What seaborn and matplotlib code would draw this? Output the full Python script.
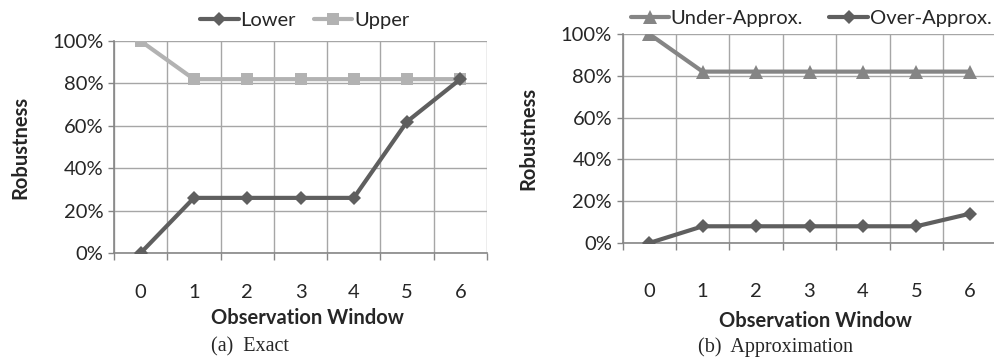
import matplotlib
matplotlib.use("Agg")
import matplotlib.pyplot as plt
import seaborn as sns
import pandas as pd
from matplotlib.ticker import FixedLocator, PercentFormatter

# observation windows
windows = [0, 1, 2, 3, 4, 5, 6]

# (a) exact robustness
lower = [0.00, 0.26, 0.26, 0.26, 0.26, 0.62, 0.82]
upper = [1.00, 0.82, 0.82, 0.82, 0.82, 0.82, 0.82]

# (b) approximation
under_approx = [1.00, 0.82, 0.82, 0.82, 0.82, 0.82, 0.82]
over_approx = [0.00, 0.08, 0.08, 0.08, 0.08, 0.08, 0.14]

sns.set_style("white")
plt.rcParams['font.family'] = ['Lato', 'DejaVu Sans']

fig = plt.figure(figsize=(9.94, 3.6), dpi=100)
ax1 = fig.add_axes([114 / 994, 1 - 253 / 360, 373 / 994, 212 / 360])
ax2 = fig.add_axes([622.5 / 994, 1 - 243 / 360, 374 / 994, 209 / 360])

grid_col = '#a6a6a6'
axis_col = '#868686'
fs = 14.5


def style_axes(ax, label_pad):
    ax.set_xlim(-0.5, 6.5)
    ax.set_ylim(0, 1)
    ax.xaxis.set_major_locator(FixedLocator([i - 0.5 for i in range(8)]))
    ax.xaxis.set_minor_locator(FixedLocator(windows))
    ax.xaxis.set_major_formatter(plt.NullFormatter())
    ax.xaxis.set_minor_formatter(plt.FixedFormatter([str(w) for w in windows]))
    ax.set_yticks([0, 0.2, 0.4, 0.6, 0.8, 1.0])
    ax.yaxis.set_major_formatter(PercentFormatter(1.0, decimals=0))
    ax.tick_params(axis='x', which='major', length=5, width=1, color=axis_col, direction='out', bottom=True)
    ax.tick_params(axis='x', which='minor', length=0, pad=label_pad, labelsize=fs, bottom=True)
    ax.tick_params(axis='y', length=4.5, width=1, color=axis_col, direction='out', labelsize=fs, pad=3, left=True)
    ax.grid(True, which='major', color=grid_col, linewidth=1)
    for side in ['top', 'right']:
        ax.spines[side].set_visible(False)
    for side in ['left', 'bottom']:
        ax.spines[side].set_color(axis_col)
        ax.spines[side].set_linewidth(1.2)
    ax.set_axisbelow(True)


df1 = pd.DataFrame({'Observation Window': windows, 'Lower': lower, 'Upper': upper})
df2 = pd.DataFrame({'Observation Window': windows, 'Under-Approx.': under_approx,
                    'Over-Approx.': over_approx})

sns.lineplot(data=df1, x='Observation Window', y='Lower', ax=ax1, color='#5f5f5f',
             marker='D', markersize=7, linewidth=3, markeredgewidth=0, label='Lower', zorder=4)
sns.lineplot(data=df1, x='Observation Window', y='Upper', ax=ax1, color='#b2b2b2',
             marker='s', markersize=9, linewidth=3, markeredgewidth=0, label='Upper', zorder=3)

sns.lineplot(data=df2, x='Observation Window', y='Under-Approx.', ax=ax2, color='#858585',
             marker='^', markersize=10, linewidth=3, markeredgewidth=0, label='Under-Approx.', zorder=3)
sns.lineplot(data=df2, x='Observation Window', y='Over-Approx.', ax=ax2, color='#5f5f5f',
             marker='D', markersize=7, linewidth=3, markeredgewidth=0, label='Over-Approx.', zorder=4)

style_axes(ax1, 22)
style_axes(ax2, 29)

for ax, xl, yl in [(ax1, (307.5, 318), (20, 147)), (ax2, (815, 321), (528, 138))]:
    ax.set_xlabel('')
    ax.set_ylabel('')
    fig.text(xl[0] / 994, 1 - xl[1] / 360, 'Observation Window', ha='center', va='center',
             fontsize=fs, fontweight='bold')
    fig.text(yl[0] / 994, 1 - yl[1] / 360, 'Robustness', ha='center', va='center',
             rotation=90, fontsize=fs, fontweight='bold')

leg1 = ax1.legend(loc='center', bbox_to_anchor=(305 / 994, 1 - 20 / 360), bbox_transform=fig.transFigure,
                  ncol=2, frameon=False, fontsize=fs, handlelength=1.9, columnspacing=0.9,
                  handletextpad=0.1, borderaxespad=0)
leg2 = ax2.legend(loc='center', bbox_to_anchor=(811 / 994, 1 - 18 / 360), bbox_transform=fig.transFigure,
                  ncol=2, frameon=False, fontsize=fs, handlelength=1.9, columnspacing=1.3,
                  handletextpad=0.1, borderaxespad=0)

fig.text(250 / 994, 1 - 347 / 360, '(a)  Exact', ha='center', va='center', fontsize=14.5,
         family=['Liberation Serif', 'DejaVu Serif'])
fig.text(775 / 994, 1 - 347 / 360, '(b)  Approximation', ha='center', va='center', fontsize=14.5,
         family=['Liberation Serif', 'DejaVu Serif'])

fig.savefig('out.png', dpi=100)
